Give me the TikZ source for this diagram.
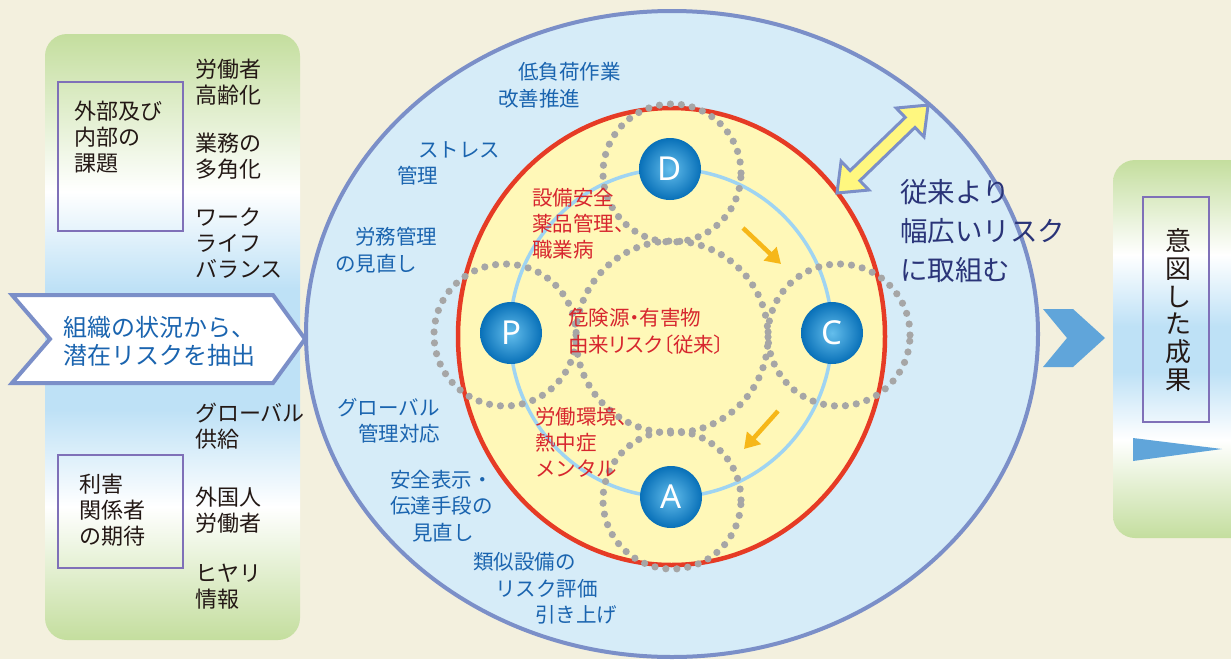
\documentclass[tikz,border=0pt]{standalone}
\usepackage{fontspec}
\newfontfamily\jp{Noto Sans CJK JP}
\newfontfamily\jpp[RawFeature=+palt]{Noto Sans CJK JP}
\newfontfamily\lat{Noto Sans}
\usetikzlibrary{arrows.meta,calc}
\definecolor{bg}{RGB}{243,240,222}
\definecolor{pgreen}{RGB}{196,222,158}
\definecolor{pblue}{RGB}{190,225,246}
\definecolor{bigfill}{RGB}{214,236,248}
\definecolor{bigline}{RGB}{123,143,200}
\definecolor{yel}{RGB}{255,248,184}
\definecolor{redc}{RGB}{230,59,37}
\definecolor{ringc}{RGB}{159,212,242}
\definecolor{dotc}{RGB}{166,166,166}
\definecolor{ballin}{RGB}{100,190,236}
\definecolor{ballout}{RGB}{8,112,184}
\definecolor{orng}{RGB}{246,183,25}
\definecolor{arrowyel}{RGB}{255,247,127}
\definecolor{chev}{RGB}{96,165,218}
\definecolor{purp}{RGB}{127,112,184}
\definecolor{tblue}{RGB}{26,100,175}
\definecolor{tred}{RGB}{215,38,46}
\definecolor{tnavy}{RGB}{42,52,120}
\definecolor{tblack}{RGB}{35,24,21}
\pgfdeclareverticalshading{lpanel}{100bp}{color(0bp)=(pgreen); color(25bp)=(pgreen); color(36bp)=(white); color(44bp)=(pblue); color(54bp)=(pblue); color(62bp)=(white); color(75bp)=(pgreen); color(100bp)=(pgreen)}
\pgfdeclareverticalshading{rpanel}{100bp}{color(0bp)=(pgreen); color(25bp)=(pgreen); color(38bp)=(white); color(47bp)=(pblue); color(53bp)=(pblue); color(62.5bp)=(white); color(75bp)=(pgreen); color(100bp)=(pgreen)}
\tikzset{
  jpt/.style={inner sep=0pt, anchor=west, align=left},
  blk/.style={jpt, text=tblack, font=\jp\fontsize{22}{26}\selectfont},
  blu/.style={jpt, text=tblue, font=\jp\fontsize{20.5}{26.5}\selectfont},
  rdt/.style={jpt, text=tred, font=\jp\fontsize{20.5}{26}\selectfont},
  pbox/.style={draw=purp, line width=2.5pt, inner sep=0pt},
  dots/.style={draw=dotc, line width=7.2pt, dash pattern=on 0pt off 11pt, line cap=round},
  ball/.style={circle, minimum size=62pt, inner sep=0pt, shade, inner color=ballin, outer color=ballout, text=white, font=\lat\fontsize{33}{33}\selectfont},
  oarr/.style={draw=orng, line width=4.5pt, -{Triangle[length=15pt,width=18pt]}},
}
\begin{document}
\begin{tikzpicture}[x=1pt,y=-1pt]
\useasboundingbox (0,0) rectangle (1231,659);
\fill[bg] (0,0) rectangle (1231,659);
% left panel
\shade[shading=lpanel, rounded corners=22pt] (45,34) rectangle (300,640);
\node[pbox, minimum width=125pt, minimum height=149pt] (box1) at (120.5,156.5) {};
\node[pbox, minimum width=125pt, minimum height=113pt] (box2) at (120.5,511.5) {};
\node[blk] (t1) at (74,137.3) {外部及び\\内部の\\課題};
\node[blk] (t2) at (79,509.7) {利害\\関係者\\の期待};
\node[blk] (a1) at (195,82.5) {労働者\\高齢化};
\node[blk] (a2) at (195,156.5) {業務の\\多角化};
\node[blk] (a3) at (195,243.5) {ワーク\\ライフ\\バランス};
\node[blk] (a4) at (195,426.5) {グローバル\\供給};
\node[blk] (a5) at (195,510) {外国人\\労働者};
\node[blk] (a6) at (195,586.5) {ヒヤリ\\情報};
% big circle
\draw[draw=bigline, fill=bigfill, line width=4pt] (672,334) ellipse [x radius=366pt, y radius=323pt];
% pentagon arrow
\draw[draw=bigline, fill=white, line width=4pt, line join=miter] (12,295) -- (273,295) -- (305,339) -- (273,383) -- (12,383) -- (50,339) -- cycle;
\node[jpt, text=tblue, font=\jp\fontsize{24}{28}\selectfont] (org) at (63,341) {組織の状況から、\\潜在リスクを抽出};
% red ellipse
\draw[draw=redc, fill=yel, line width=4.5pt] (671.5,336.5) ellipse [x radius=213.5pt, y radius=228.5pt];
% ring
\draw[draw=ringc, line width=3.5pt] (671,333) ellipse [x radius=161pt, y radius=164pt];
% dotted circles
\draw[dots] (672,173) circle [radius=69pt];
\draw[dots] (505,335) circle [radius=71pt];
\draw[dots] (839,335) circle [radius=71pt];
\draw[dots] (672,500) circle [radius=69pt];
\draw[dots] (672,337) circle [radius=96pt];
% balls
\node[ball] (D) at (670,169) {D};
\node[ball] (P) at (511,333) {P};
\node[ball] (C) at (832,333) {C};
\node[ball] (A) at (671,497) {A};
% orange arrows
\coordinate (o1a) at (743,228);
\coordinate (o1b) at (781,264);
\coordinate (o2a) at (778,411);
\coordinate (o2b) at (744,449);
\draw[oarr] (o1a) -- (o1b);
\draw[oarr] (o2a) -- (o2b);
% double arrow
\coordinate (wA) at (837,193);
\coordinate (wB) at (928,105);
\begin{scope}[shift={(wA)}, rotate=44]
\draw[fill=arrowyel, draw=bigline, line width=3pt, line join=miter]
  (0,0) -- (25,20) -- (25,7) -- (101.6,7) -- (101.6,20) -- (126.6,0) -- (101.6,-20) -- (101.6,-7) -- (25,-7) -- (25,-20) -- cycle;
\end{scope}
% blue texts
\node[blu] (g1) at (498,85) {\hspace*{20pt}低負荷作業\\改善推進};
\node[blu] (g2) at (397,163.5) {\hspace*{21pt}ストレス\\管理};
\node[blu] (g3) at (335,250) {\hspace*{20pt}労務管理\\の見直し};
\node[blu] (g4) at (337,420.5) {グローバル\\\hspace*{21pt}管理対応};
\node[blu] (g5) at (390,505.7) {安全表示・\\伝達手段の\\\hspace*{22pt}見直し};
\node[blu] (g6) at (473,588.3) {類似設備の\\\hspace*{22pt}リスク評価\\\hspace*{62pt}引き上げ};
% red texts
\node[rdt] (r1) at (532,223.3) {設備安全\\薬品管理、\\職業病};
\node[rdt, font=\jpp\fontsize{20.5}{27}\selectfont] (r2) at (568,331.5) {危険源・有害物\\由来リスク〔従来〕};
\node[rdt] (r3) at (535,442) {労働環境、\\熱中症\\メンタル};
% navy text
\node[jpt, text=tnavy, font=\jp\fontsize{27.5}{39}\selectfont] (wide) at (900,230.7) {従来より\\幅広いリスク\\に取組む};
% chevron
\fill[chev] (1043,309) -- (1073,309) -- (1105,338) -- (1073,367) -- (1043,367) -- (1067,338) -- cycle;
% right panel
\begin{scope}
\clip (0,0) rectangle (1231,659);
\shade[shading=rpanel, rounded corners=22pt] (1113,160) rectangle (1253,538);
\end{scope}
\node[pbox, minimum width=66pt, minimum height=225pt] (box3) at (1176,309.5) {};
\node[inner sep=0pt, align=center, text=tblack, font=\jp\fontsize{26}{27.7}\selectfont] (res) at (1178,310) {意\\図\\し\\た\\成\\果};
\fill[chev] (1133,438) -- (1222,449) -- (1133,461) -- cycle;
\end{tikzpicture}
\end{document}
